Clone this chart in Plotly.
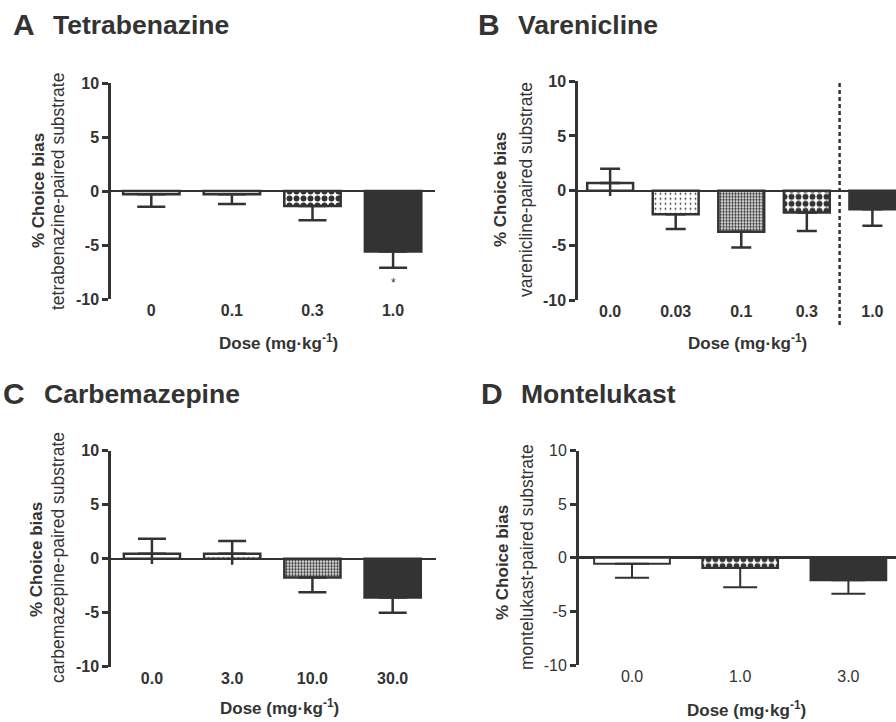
import plotly.graph_objects as go

# ---------------- data ----------------
a_doses = ["0", "0.1", "0.3", "1.0"]
a_mean = [-0.3, -0.3, -1.4, -5.6]
a_sem = [1.15, 0.9, 1.3, 1.5]

b_doses = ["0.0", "0.03", "0.1", "0.3", "1.0"]
b_mean = [0.7, -2.15, -3.75, -2.0, -1.7]
b_sem = [1.3, 1.35, 1.45, 1.7, 1.5]
b_low = [-0.5, None, None, None, None]   # visible lower whisker end of positive bars

c_doses = ["0.0", "3.0", "10.0", "30.0"]
c_mean = [0.45, 0.45, -1.75, -3.6]
c_sem = [1.4, 1.2, 1.35, 1.4]
c_low = [-0.5, -0.55, None, None]

d_doses = ["0.0", "1.0", "3.0"]
d_mean = [-0.55, -0.95, -2.1]
d_sem = [1.3, 1.8, 1.25]

y_ticks = [-10, -5, 0, 5, 10]
y_ticktext = ["-10", "-5", "0", "5", "10"]

# ---------------- style ----------------
INK = "#333333"
FONT = "Liberation Sans, Arial, sans-serif"
W, H = 896, 722

WHITE = "white"
SPARSE = "sparse"
DENSE = "dense"
CHECK = "check"
DARK = "dark"
PATTERNS = {
    SPARSE: dict(shape=".", size=5, solidity=0.1),
    DENSE: dict(shape=".", size=3, solidity=0.5),
    CHECK: dict(shape=".", size=7, solidity=0.55),
}

a_style = [WHITE, WHITE, CHECK, DARK]
b_style = [WHITE, SPARSE, DENSE, CHECK, DARK]
c_style = [WHITE, SPARSE, DENSE, DARK]
d_style = [WHITE, CHECK, DARK]

fig = go.Figure()

panels = [
    ("A", a_doses, a_mean, a_sem, a_style, None, "x", "y", 14, 2.5, [-0.5, 3.52],
     [111 / W, 435 / W], [1 - 299 / H, 1 - 83 / H], True),
    ("B", b_doses, b_mean, b_sem, b_style, b_low, "x2", "y2", 10, 2.5, [-0.49, 4.36],
     [578 / W, 1.0], [1 - 300 / H, 1 - 81.3 / H], True),
    ("C", c_doses, c_mean, c_sem, c_style, c_low, "x3", "y3", 14, 2.5, [-0.51, 3.54],
     [111 / W, 436 / W], [1 - 666.7 / H, 1 - 450.7 / H], True),
    ("D", d_doses, d_mean, d_sem, d_style, None, "x4", "y4", 17, 2.0, [-0.49, 2.44],
     [579 / W, 1.0], [1 - 665 / H, 1 - 450.7 / H], False),
]

for (name, doses, mean, sem, style, low, xa, ya, capw, lw, xr, xdom, ydom, bold) in panels:
    xs = list(range(len(doses)))
    for i, (m, s, st) in enumerate(zip(mean, sem, style)):
        marker = dict(color=INK if st == DARK else "white",
                      line=dict(color=INK, width=lw))
        if st in PATTERNS:
            marker["pattern"] = dict(fgcolor=INK, bgcolor="white",
                                     fillmode="replace", **PATTERNS[st])
        fig.add_trace(go.Bar(
            x=[i], y=[m], width=0.7, xaxis=xa, yaxis=ya, showlegend=False,
            marker=marker,
            error_y=dict(type="data", symmetric=False,
                         array=[s if m >= 0 else 0], arrayminus=[s if m < 0 else 0],
                         color=INK, thickness=lw, width=capw),
        ))
    if low:
        sx, sy = [], []
        for i, (m, l) in enumerate(zip(mean, low)):
            if l is not None:
                sx += [i, i, None]
                sy += [m, l, None]
        fig.add_trace(go.Scatter(x=sx, y=sy, mode="lines", xaxis=xa, yaxis=ya,
                                 line=dict(color=INK, width=lw), showlegend=False,
                                 hoverinfo="skip"))

    sfx = xa[1:]
    tickfont = dict(family=FONT, size=16, color=INK)
    ticktext = [f"<b>{d}</b>" for d in doses] if bold else doses
    ytt = [f"<b>{t}</b>" for t in y_ticktext] if bold else y_ticktext
    fig.layout["xaxis" + sfx] = dict(
        domain=xdom, range=xr, anchor=ya, showline=False, showgrid=False,
        zeroline=False, ticks="", tickvals=xs, ticktext=ticktext, tickfont=tickfont,
        fixedrange=True, automargin=False,
    )
    fig.layout["yaxis" + sfx] = dict(
        domain=ydom, range=[-10, 10], anchor=xa, showline=True, linecolor=INK,
        linewidth=lw if bold else 3, showgrid=False, zeroline=True,
        zerolinecolor=INK, zerolinewidth=2 if bold else 3, ticks="outside", ticklen=6,
        tickwidth=lw if bold else 3, tickcolor=INK, tickvals=y_ticks, ticktext=ytt,
        tickfont=tickfont, fixedrange=True, automargin=False,
    )

# ---------------- annotations ----------------
ann = []


def text(x, y, t, size, bold=False, angle=0, xanchor="center", yanchor="middle"):
    ann.append(dict(x=x / W, y=1 - y / H, xref="paper", yref="paper",
                    text=f"<b>{t}</b>" if bold else t, showarrow=False,
                    textangle=angle, xanchor=xanchor, yanchor=yanchor,
                    font=dict(family=FONT, size=size, color=INK)))


# panel letters and titles
text(11, 24, "A", 30, True, xanchor="left")
text(51, 25, "Tetrabenazine", 26.5, True, xanchor="left")
text(476, 24, "B", 30, True, xanchor="left")
text(516, 25, "Varenicline", 26.5, True, xanchor="left")
text(1, 393, "C", 30, True, xanchor="left")
text(42, 394, "Carbemazepine", 26.5, True, xanchor="left")
text(479, 393, "D", 30, True, xanchor="left")
text(519, 394, "Montelukast", 26.5, True, xanchor="left")

# y titles
text(38, 191, "% Choice bias", 17, True, angle=-90)
text(58, 192, "tetrabenazine-paired substrate", 17.5, angle=-90)
text(501, 190, "% Choice bias", 17, True, angle=-90)
text(526, 190, "varenicline-paired substrate", 17.5, angle=-90)
text(36, 560, "% Choice bias", 17, True, angle=-90)
text(58, 558, "carbemazepine-paired substrate", 17.5, angle=-90)
text(502, 562, "% Choice bias", 17, True, angle=-90)
text(527, 557, "montelukast-paired substrate", 17.5, angle=-90)

# x titles
xt = "Dose (mg·kg<sup>-1</sup>)"
text(278, 342, xt, 17, True)
text(747, 342, xt, 17, True)
text(279, 707, xt, 17, True)
text(746, 709, xt, 17, True)

# significance marker
ann.append(dict(x=3, y=-8.5, xref="x", yref="y", text="*", showarrow=False,
                font=dict(family=FONT, size=12, color=INK)))

fig.update_layout(
    width=W, height=H, autosize=False,
    margin=dict(l=0, r=0, t=0, b=0, pad=0, autoexpand=False),
    paper_bgcolor="white", plot_bgcolor="white",
    annotations=ann, bargap=0.3, barmode="overlay",
    shapes=[dict(type="line", xref="x2", yref="paper", x0=3.5, x1=3.5,
                 y0=1 - 325 / H, y1=1 - 81 / H,
                 line=dict(color=INK, width=2.5, dash="4px,3px"))],
)

fig.write_html("out.html")
